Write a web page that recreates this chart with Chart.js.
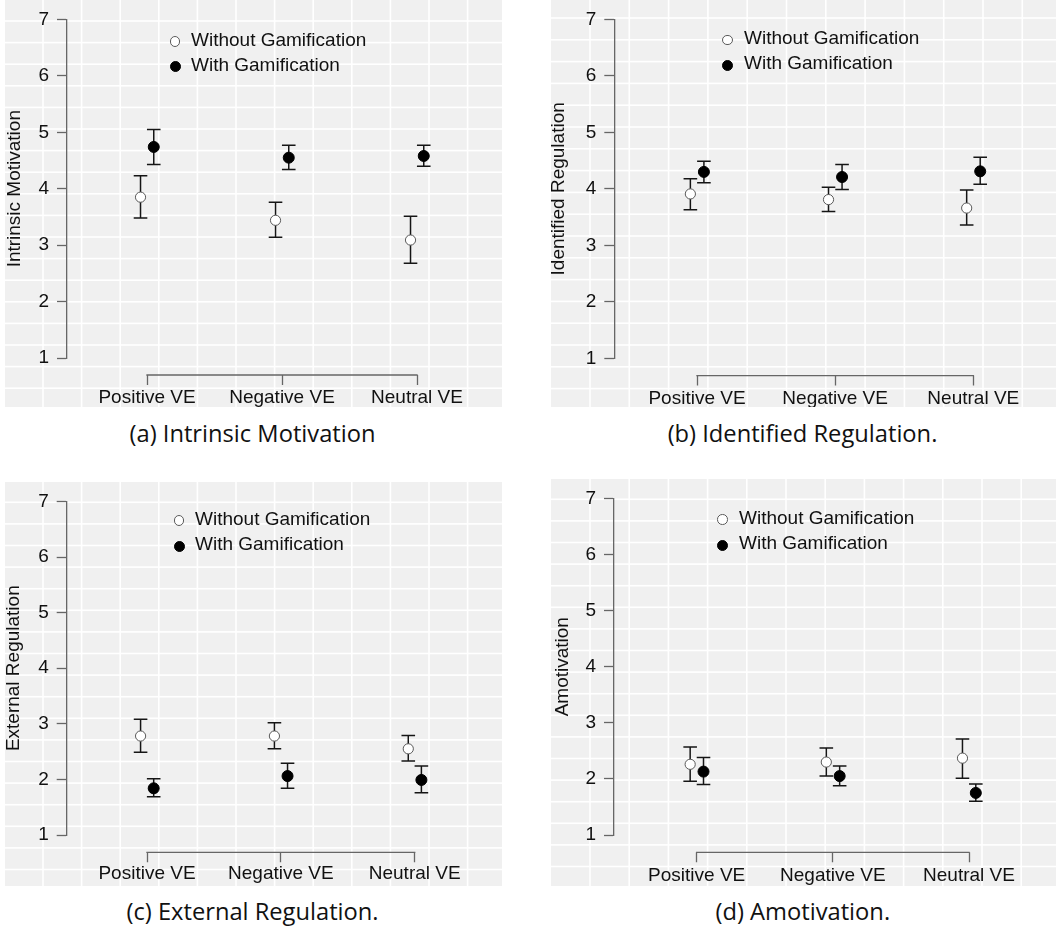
<!DOCTYPE html>
<html>
<head>
<meta charset="utf-8">
<script src="https://cdn.jsdelivr.net/npm/chart.js@4.4.1/dist/chart.umd.min.js"></script>
<style>
html,body{margin:0;padding:0;background:#fff;}
body{width:1058px;height:928px;position:relative;overflow:hidden;font-family:'Liberation Sans',Arial,sans-serif;}
.panel{position:absolute;}
.panel canvas{position:absolute;left:0;top:0;}
.legtext{position:absolute;font-family:'Liberation Sans',Arial,sans-serif;font-size:19px;line-height:20px;color:#111;white-space:nowrap;}
.mk{position:absolute;border-radius:50%;box-sizing:border-box;}
.cap{position:absolute;font-family:'Open Sans',sans-serif;font-size:23.7px;line-height:24px;color:#111;white-space:nowrap;transform:translateX(-50%);}
</style>
</head>
<body>
<script>
// ---------------- data ----------------
const CATEGORIES = ['Positive VE', 'Negative VE', 'Neutral VE'];
const SERIES = ['Without Gamification', 'With Gamification'];
const Y_TICKS = [1, 2, 3, 4, 5, 6, 7];

const IM_WITHOUT      = [3.85, 3.44, 3.09];
const IM_WITHOUT_LOW  = [3.48, 3.14, 2.68];
const IM_WITHOUT_HIGH = [4.23, 3.76, 3.51];
const IM_WITH         = [4.74, 4.55, 4.58];
const IM_WITH_LOW     = [4.43, 4.34, 4.40];
const IM_WITH_HIGH    = [5.05, 4.77, 4.77];

const IR_WITHOUT      = [3.91, 3.81, 3.66];
const IR_WITHOUT_LOW  = [3.63, 3.60, 3.36];
const IR_WITHOUT_HIGH = [4.18, 4.03, 3.98];
const IR_WITH         = [4.30, 4.21, 4.31];
const IR_WITH_LOW     = [4.11, 3.99, 4.08];
const IR_WITH_HIGH    = [4.49, 4.43, 4.56];

const ER_WITHOUT      = [2.78, 2.78, 2.55];
const ER_WITHOUT_LOW  = [2.49, 2.55, 2.33];
const ER_WITHOUT_HIGH = [3.08, 3.02, 2.79];
const ER_WITH         = [1.84, 2.06, 1.99];
const ER_WITH_LOW     = [1.69, 1.84, 1.76];
const ER_WITH_HIGH    = [2.01, 2.29, 2.24];

const AM_WITHOUT      = [2.26, 2.30, 2.37];
const AM_WITHOUT_LOW  = [1.96, 2.05, 2.01];
const AM_WITHOUT_HIGH = [2.57, 2.55, 2.71];
const AM_WITH         = [2.13, 2.05, 1.75];
const AM_WITH_LOW     = [1.90, 1.88, 1.60];
const AM_WITH_HIGH    = [2.38, 2.23, 1.91];

const Y_TITLES = ['Intrinsic Motivation', 'Identified Regulation', 'External Regulation', 'Amotivation'];
const CAPTIONS = ['(a) Intrinsic Motivation', '(b) Identified Regulation.', '(c) External Regulation.', '(d) Amotivation.'];

const PANEL_DATA = [
  [[IM_WITHOUT, IM_WITHOUT_LOW, IM_WITHOUT_HIGH], [IM_WITH, IM_WITH_LOW, IM_WITH_HIGH]],
  [[IR_WITHOUT, IR_WITHOUT_LOW, IR_WITHOUT_HIGH], [IR_WITH, IR_WITH_LOW, IR_WITH_HIGH]],
  [[ER_WITHOUT, ER_WITHOUT_LOW, ER_WITHOUT_HIGH], [ER_WITH, ER_WITH_LOW, ER_WITH_HIGH]],
  [[AM_WITHOUT, AM_WITHOUT_LOW, AM_WITHOUT_HIGH], [AM_WITH, AM_WITH_LOW, AM_WITH_HIGH]]
];

// ---------------- layout & style ----------------
const DODGE = [-0.048, 0.05];
const MARKER_FILL = ['#ffffff', '#000000'];
const MARKER_EDGE = ['#5a5a5a', '#000000'];
const MARKER_RADIUS = [5.1, 5.5];
const BAR_COLOR = '#151515';
const AXIS_COLOR = '#666666';
const TEXT_COLOR = '#111111';
const FONT = 'Liberation Sans';

const LAYOUT = [
  {left:5,   top:0,   w:497, h:407, yTop:16,   yBot:358,   axisX:62,   cats:[142,412],   gap:17,   labC:39.3, titleX:10,  legX:170,   legY:[41.7,66.7], legTextX:186, gx0:38, gpx:38.6, gy0:21,   gpy:21.6, capX:252.5, capY:420.5},
  {left:551, top:0,   w:505, h:407, yTop:14.3, yBot:358.3, axisX:63.3, cats:[146,422.3], gap:17.4, labC:40.4, titleX:8,   legX:176.3, legY:[40,65],     legTextX:193, gx0:39, gpx:39.3, gy0:18,   gpy:21.8, capX:802.5, capY:420.5},
  {left:5,   top:482, w:497, h:404, yTop:14,   yBot:353,   axisX:61.7, cats:[142,409.7], gap:17.3, labC:39.2, titleX:8.3, legX:174,   legY:[38.7,64],   legTextX:190, gx0:38, gpx:38.6, gy0:20.3, gpy:21.6, capX:252.5, capY:898.5},
  {left:551, top:479, w:505, h:407, yTop:15.3, yBot:356,   axisX:63,   cats:[145.7,418], gap:17.3, labC:40.3, titleX:11.7,legX:171.3, legY:[40.3,66],   legTextX:188, gx0:39, gpx:39.2, gy0:20.3, gpy:21.6, capX:802.8, capY:898.5}
];

// ---------------- plugins ----------------
const gridBg = {
  id: 'gridBg',
  beforeDraw(chart, args, o) {
    const {ctx, width, height} = chart;
    ctx.save();
    ctx.fillStyle = '#f0f0f0';
    ctx.fillRect(0, 0, width, height);
    ctx.fillStyle = '#ffffff';
    for (let x = o.x0 % o.px; x < width + 1; x += o.px) ctx.fillRect(x - 0.8, 0, 1.6, height);
    for (let y = o.y0 % o.py; y < height + 1; y += o.py) ctx.fillRect(0, y - 0.8, width, 1.6);
    ctx.restore();
  }
};

const bracket = {
  id: 'bracket',
  afterDraw(chart, args, o) {
    const xs = chart.scales.x;
    const ctx = chart.ctx;
    const y = xs.top + o.gap;
    ctx.save();
    ctx.strokeStyle = AXIS_COLOR;
    ctx.lineWidth = 1.3;
    ctx.beginPath();
    ctx.moveTo(xs.getPixelForValue(1) - 0.65, y);
    ctx.lineTo(xs.getPixelForValue(CATEGORIES.length) + 0.65, y);
    ctx.stroke();
    ctx.restore();
  }
};

function buildDatasets(series) {
  const ds = [];
  series.forEach(([mean], k) => {
    ds.push({
      label: SERIES[k],
      data: mean.map((v, i) => ({x: i + 1 + DODGE[k], y: v})),
      showLine: false,
      pointRadius: MARKER_RADIUS[k],
      pointBorderWidth: 1,
      pointBackgroundColor: MARKER_FILL[k],
      pointBorderColor: MARKER_EDGE[k],
      order: 0
    });
  });
  series.forEach(([mean, low, high], k) => {
    ds.push({
      label: SERIES[k] + ' interval',
      data: mean.flatMap((_, i) => [
        {x: i + 1 + DODGE[k], y: low[i]},
        {x: i + 1 + DODGE[k], y: high[i]},
        {x: i + 1 + DODGE[k], y: null}
      ]),
      showLine: true,
      spanGaps: false,
      borderColor: BAR_COLOR,
      borderWidth: 1.5,
      pointRadius: 0,
      order: 2
    });
    ds.push({
      label: SERIES[k] + ' caps',
      data: mean.flatMap((_, i) => [
        {x: i + 1 + DODGE[k], y: low[i]},
        {x: i + 1 + DODGE[k], y: high[i]}
      ]),
      showLine: false,
      pointStyle: 'line',
      pointRadius: 6.8,
      pointBorderColor: BAR_COLOR,
      pointBorderWidth: 1.5,
      order: 1
    });
  });
  return ds;
}

LAYOUT.forEach((L, p) => {
  const panel = document.createElement('div');
  panel.className = 'panel';
  Object.assign(panel.style, {left: L.left + 'px', top: L.top + 'px', width: L.w + 'px', height: L.h + 'px'});
  document.body.appendChild(panel);

  const canvas = document.createElement('canvas');
  canvas.width = L.w; canvas.height = L.h;
  canvas.style.width = L.w + 'px'; canvas.style.height = L.h + 'px';
  panel.appendChild(canvas);

  // legend (HTML)
  SERIES.forEach((name, k) => {
    const mk = document.createElement('div');
    mk.className = 'mk';
    const d = k === 0 ? 10.5 : 11;
    Object.assign(mk.style, {
      width: d + 'px', height: d + 'px',
      left: (L.legX - d / 2) + 'px', top: (L.legY[k] - d / 2) + 'px',
      background: MARKER_FILL[k], border: '1px solid ' + MARKER_EDGE[k]
    });
    panel.appendChild(mk);
    const t = document.createElement('div');
    t.className = 'legtext';
    t.textContent = name;
    Object.assign(t.style, {left: L.legTextX + 'px', top: (L.legY[k] - 1.7 - 10) + 'px'});
    panel.appendChild(t);
  });

  // caption (HTML)
  const cap = document.createElement('div');
  cap.className = 'cap';
  cap.textContent = CAPTIONS[p];
  Object.assign(cap.style, {left: L.capX + 'px', top: L.capY + 'px'});
  document.body.appendChild(cap);

  const right = L.w - 12;
  const unit = (L.cats[1] - L.cats[0]) / (CATEGORIES.length - 1);
  const xMin = 1 - (L.cats[0] - L.axisX) / unit;
  const xMax = CATEGORIES.length + (right - L.cats[1]) / unit;
  const tickLen = L.gap + 10;
  const labPad = L.labC - tickLen - 11.4;

  new Chart(canvas, {
    type: 'scatter',
    data: {datasets: buildDatasets(PANEL_DATA[p])},
    plugins: [gridBg, bracket],
    options: {
      responsive: false,
      animation: false,
      events: [],
      layout: {padding: {top: L.yTop, left: 0, right: L.w - right, bottom: 0}},
      plugins: {
        legend: {display: false},
        tooltip: {enabled: false},
        gridBg: {x0: L.gx0, px: L.gpx, y0: L.gy0, py: L.gpy},
        bracket: {gap: L.gap}
      },
      scales: {
        x: {
          type: 'linear',
          min: xMin,
          max: xMax,
          afterBuildTicks: s => { s.ticks = CATEGORIES.map((c, i) => ({value: i + 1})); },
          afterFit: s => { s.height = L.h - L.yBot; },
          ticks: {
            callback: (v, i) => CATEGORIES[i],
            color: TEXT_COLOR,
            font: {family: FONT, size: 19},
            padding: labPad,
            maxRotation: 0,
            autoSkip: false
          },
          grid: {
            display: true,
            drawOnChartArea: false,
            drawTicks: true,
            tickLength: tickLen,
            tickColor: AXIS_COLOR,
            tickWidth: 1.3,
            tickBorderDash: [0, L.gap, 10, 400]
          },
          border: {display: false}
        },
        y: {
          type: 'linear',
          min: Y_TICKS[0],
          max: Y_TICKS[Y_TICKS.length - 1],
          afterBuildTicks: s => { s.ticks = Y_TICKS.map(v => ({value: v})); },
          afterFit: s => { s.width = L.axisX; },
          ticks: {
            color: TEXT_COLOR,
            font: {family: FONT, size: 19},
            padding: 8
          },
          grid: {
            display: true,
            drawOnChartArea: false,
            drawTicks: true,
            tickLength: 10,
            tickColor: AXIS_COLOR,
            tickWidth: 1.3
          },
          border: {display: true, color: AXIS_COLOR, width: 1.3},
          title: {
            display: true,
            text: Y_TITLES[p],
            color: TEXT_COLOR,
            font: {family: FONT, size: 19, lineHeight: 1},
            padding: {top: L.titleX - 9.5, bottom: 0}
          }
        }
      }
    }
  });
});
</script>
</body>
</html>
